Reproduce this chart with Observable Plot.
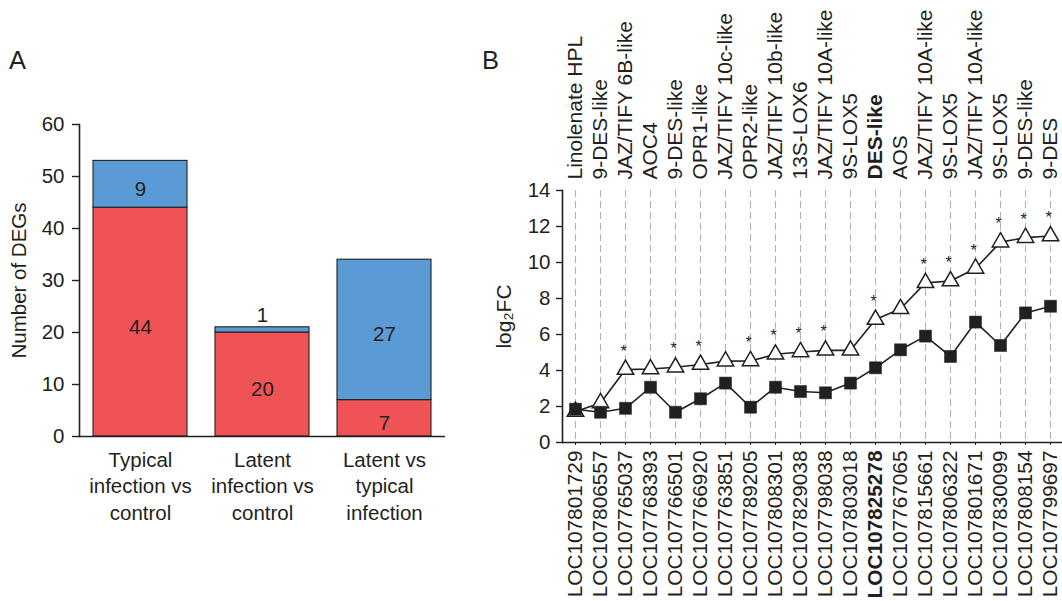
<!DOCTYPE html>
<html>
<head>
<meta charset="utf-8">
<script src="https://cdn.jsdelivr.net/npm/d3@7"></script>
<script src="https://cdn.jsdelivr.net/npm/@observablehq/plot@0.6"></script>
<style>
  html, body { margin: 0; padding: 0; background: #fff; }
  #wrap { position: relative; width: 1062px; height: 601px; overflow: hidden;
          font-family: "Liberation Sans", Arial, Helvetica, sans-serif; color: #231f20; }
  #wrap svg { overflow: visible; }
  .panel { position: absolute; top: 0; }
  .tag { position: absolute; font-size: 25.5px; line-height: 1; }
</style>
</head>
<body>
<div id="wrap">
  <div class="tag" style="left:9px; top:48px;">A</div>
  <div class="tag" style="left:482px; top:48px;">B</div>
  <div id="pa" class="panel" style="left:0px;"></div>
  <div id="pb" class="panel" style="left:470px;"></div>
</div>
<script>
// ---------- Panel A data ----------
const categories = ["Typical\ninfection vs\ncontrol", "Latent\ninfection vs\ncontrol", "Latent vs\ntypical\ninfection"];
const upCounts = [44, 20, 7];     // red (lower) segments
const downCounts = [9, 1, 27];    // blue (upper) segments
const yTicksA = [0, 10, 20, 30, 40, 50, 60];

// ---------- Panel B data ----------
const geneIds = ["LOC107801729", "LOC107806557", "LOC107765037", "LOC107768393", "LOC107766501",
  "LOC107766920", "LOC107763851", "LOC107789205", "LOC107808301", "LOC107829038",
  "LOC107798038", "LOC107803018", "LOC107825278", "LOC107767065", "LOC107815661",
  "LOC107806322", "LOC107801671", "LOC107830099", "LOC107808154", "LOC107799697"];
const geneNames = ["Linolenate HPL", "9-DES-like", "JAZ/TIFY 6B-like", "AOC4", "9-DES-like",
  "OPR1-like", "JAZ/TIFY 10c-like", "OPR2-like", "JAZ/TIFY 10b-like", "13S-LOX6",
  "JAZ/TIFY 10A-like", "9S-LOX5", "DES-like", "AOS", "JAZ/TIFY 10A-like",
  "9S-LOX5", "JAZ/TIFY 10A-like", "9S-LOX5", "9-DES-like", "9-DES"];
const triangleFC = [1.72, 2.2, 4.05, 4.08, 4.18, 4.33, 4.52, 4.53, 4.9, 5.03,
  5.12, 5.12, 6.83, 7.43, 8.87, 8.97, 9.67, 11.13, 11.38, 11.47];
const squareFC = [1.85, 1.68, 1.9, 3.07, 1.68, 2.43, 3.3, 1.96, 3.07, 2.83,
  2.76, 3.3, 4.15, 5.15, 5.91, 4.78, 6.69, 5.39, 7.2, 7.57];
const significant = [0, 0, 1, 0, 1, 1, 0, 1, 1, 1, 1, 0, 1, 0, 1, 1, 1, 1, 1, 1];
const boldGene = "LOC107825278";
const yTicksB = [0, 2, 4, 6, 8, 10, 12, 14];

const FONT = '"Liberation Sans", Arial, Helvetica, sans-serif';
const INK = "#231f20";
const RED = "#ef5356";
const BLUE = "#5b9bd5";

// ---------- Panel A ----------
const barRows = [];
categories.forEach((c, i) => {
  barRows.push({cat: c, type: "up", value: upCounts[i]});
  barRows.push({cat: c, type: "down", value: downCounts[i]});
});
const labelRows = [];
categories.forEach((c, i) => {
  labelRows.push({cat: c, text: String(upCounts[i]), y: upCounts[i] / 2});
  const d = downCounts[i];
  labelRows.push({cat: c, text: String(d), y: d < 3 ? upCounts[i] + d + 3.3 : upCounts[i] + d / 2});
});

const chartA = Plot.plot({
  width: 450, height: 601,
  marginLeft: 79, marginRight: 5, marginTop: 124, marginBottom: 165,
  style: {fontFamily: FONT, color: INK, background: "transparent"},
  x: {domain: categories, paddingInner: 0.226, paddingOuter: 0.11, label: null},
  y: {domain: [0, 60], label: null},
  color: {domain: ["up", "down"], range: [RED, BLUE]},
  marks: [
    Plot.barY(barRows, {x: "cat", y: "value", fill: "type", stroke: INK, strokeWidth: 1.1}),
    Plot.text(labelRows, {x: "cat", y: "y", text: "text", fontSize: 20.5, fill: INK, dy: 5}),
    Plot.ruleY([0], {stroke: INK, strokeWidth: 1.6}),
    Plot.frame({anchor: "left", stroke: INK, strokeWidth: 1.6}),
    Plot.axisY({ticks: yTicksA, tickSize: 7, tickPadding: 8, fontSize: 20.5, label: null, stroke: INK, strokeWidth: 1.4}),
    Plot.axisX({tickSize: 0, tickPadding: 12, fontSize: 20.5, lineHeight: 1.28, label: null}),
    Plot.text(["Number of DEGs"], {frameAnchor: "left", dx: -60, rotate: -90, fontSize: 20.5, fill: INK, textAnchor: "middle"})
  ]
});
document.getElementById("pa").appendChild(chartA);

// ---------- Panel B ----------
const genes = geneIds.map((id, i) => ({
  id, name: geneNames[i], tri: triangleFC[i], sq: squareFC[i], sig: significant[i] === 1
}));

const chartB = Plot.plot({
  width: 592, height: 601,
  marginLeft: 92, marginRight: 0, marginTop: 190, marginBottom: 159,
  style: {fontFamily: FONT, color: INK, background: "transparent"},
  x: {type: "point", domain: geneIds, padding: 0.46, label: null},
  y: {domain: [0, 14], label: null},
  marks: [
    Plot.ruleX(geneIds, {x: d => d, stroke: "#b3b3b3", strokeWidth: 1.1, strokeDasharray: "7,4"}),
    Plot.ruleY([0], {stroke: INK, strokeWidth: 1.6}),
    Plot.frame({anchor: "left", stroke: INK, strokeWidth: 1.6}),
    Plot.axisY({ticks: yTicksB, tickSize: 6, tickPadding: 6, fontSize: 20.5, label: null, stroke: INK, strokeWidth: 1.4}),
    Plot.axisX({tickSize: 3, tickFormat: () => "", label: null, stroke: INK}),
    // triangle series
    Plot.line(genes, {x: "id", y: "tri", stroke: INK, strokeWidth: 1.6}),
    Plot.dot(genes, {x: "id", y: "tri", symbol: "triangle", r: 6.1, fill: "white", stroke: INK, strokeWidth: 1.5}),
    // square series
    Plot.line(genes, {x: "id", y: "sq", stroke: INK, strokeWidth: 1.6}),
    Plot.dot(genes, {x: "id", y: "sq", symbol: "square", r: 6.8, fill: INK, stroke: INK, strokeWidth: 0.5}),
    // significance asterisks
    Plot.text(genes.filter(d => d.sig), {x: "id", y: "tri", text: () => "*", fontSize: 16, dy: -18, dx: -2, fill: INK}),
    // top gene names
    Plot.text(genes.filter(d => d.id !== boldGene), {x: "id", text: "name", frameAnchor: "top", dy: -11, rotate: -90, textAnchor: "start", lineAnchor: "middle", fontSize: 21, fill: INK}),
    Plot.text(genes.filter(d => d.id === boldGene), {x: "id", text: "name", frameAnchor: "top", dy: -11, rotate: -90, textAnchor: "start", lineAnchor: "middle", fontSize: 21, fontWeight: "bold", fill: INK}),
    // bottom gene ids
    Plot.text(genes.filter(d => d.id !== boldGene), {x: "id", text: "id", frameAnchor: "bottom", dy: 8, rotate: -90, textAnchor: "end", lineAnchor: "middle", fontSize: 20.8, fill: INK}),
    Plot.text(genes.filter(d => d.id === boldGene), {x: "id", text: "id", frameAnchor: "bottom", dy: 8, rotate: -90, textAnchor: "end", lineAnchor: "middle", fontSize: 20.8, fontWeight: "bold", fill: INK}),
    // y label
    Plot.text(["log\u2082FC"], {frameAnchor: "left", dx: -58, rotate: -90, textAnchor: "middle", fontSize: 21, fill: INK})
  ]
});
document.getElementById("pb").appendChild(chartB);
</script>
</body>
</html>
